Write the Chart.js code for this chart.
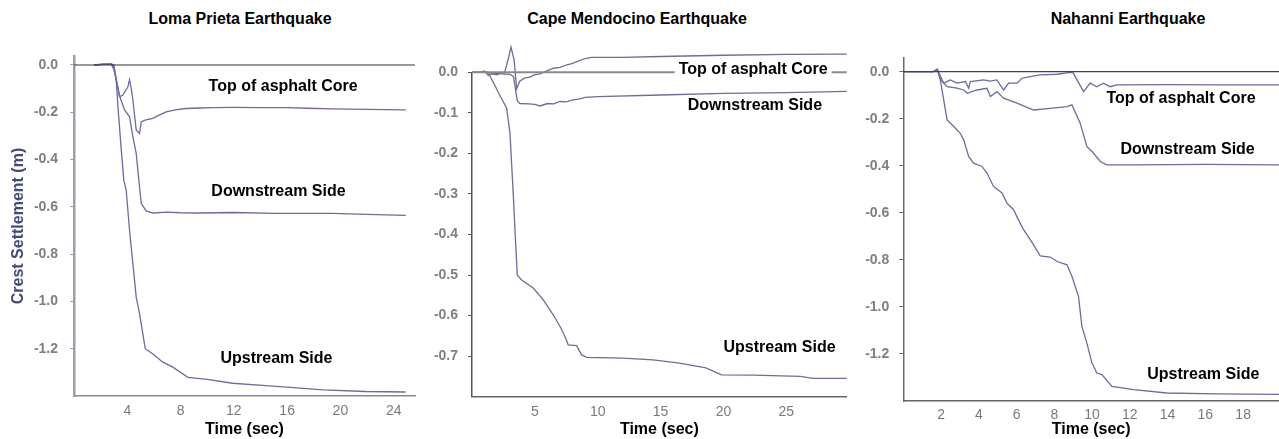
<!DOCTYPE html>
<html>
<head>
<meta charset="utf-8">
<title>Crest settlement</title>
<script src="https://cdn.jsdelivr.net/npm/chart.js@4.4.0/dist/chart.umd.min.js"></script>
<style>
  body { margin: 0; background: #fff; width: 1279px; height: 439px; position: relative; overflow: hidden;
         font-family: Arial, "Liberation Sans", sans-serif; }
  canvas { position: absolute; top: 0; }
  .ptitle { position: absolute; top: 10px; line-height: 18px; font-size: 16px; font-weight: bold; color: #000;
            transform: translateX(-50%); white-space: nowrap; }
</style>
</head>
<body>
<div class="ptitle" style="left:240px">Loma Prieta Earthquake</div>
<div class="ptitle" style="left:637px">Cape Mendocino Earthquake</div>
<div class="ptitle" style="left:1128px">Nahanni Earthquake</div>
<canvas id="loma" width="425" height="439" style="left:0px"></canvas>
<canvas id="cape" width="428" height="439" style="left:425px"></canvas>
<canvas id="nahanni" width="426" height="439" style="left:853px"></canvas>
<script>
// ---------- Loma Prieta (time in sec, settlement in m) ----------
const lomaCoreT = [1.5, 2.2, 2.8, 3.0, 3.17, 3.42, 3.67, 4.05, 4.17, 4.3, 4.42, 4.67, 4.92, 5.05, 5.4, 5.92, 6.4, 6.92, 7.6, 8.4, 9.4, 10.5, 11.9, 14, 16, 17.5, 19.4, 22, 24.9];
const lomaCoreY = [0, 0.003, 0.005, 0, -0.064, -0.134, -0.127, -0.092, -0.062, -0.1, -0.148, -0.275, -0.29, -0.24, -0.232, -0.226, -0.212, -0.198, -0.19, -0.184, -0.182, -0.18, -0.179, -0.18, -0.18, -0.183, -0.186, -0.188, -0.19];
const lomaDownT = [1.5, 2.2, 2.8, 3.0, 3.17, 3.42, 3.6, 3.8, 4.17, 4.42, 4.67, 4.92, 5.05, 5.42, 5.92, 7, 8, 9.4, 12, 15, 19.4, 22, 24.9];
const lomaDownY = [0, 0.004, 0.005, -0.01, -0.06, -0.13, -0.16, -0.19, -0.219, -0.304, -0.374, -0.516, -0.586, -0.617, -0.626, -0.622, -0.625, -0.626, -0.624, -0.628, -0.628, -0.632, -0.636];
const lomaUpT = [1.5, 2.2, 2.8, 3.0, 3.17, 3.3, 3.55, 3.74, 3.92, 4.17, 4.67, 4.92, 5.35, 5.92, 6.67, 7.42, 8.55, 10, 11.9, 14.4, 16.5, 18.7, 21.9, 24.9];
const lomaUpY = [0, 0.004, 0.003, -0.02, -0.064, -0.177, -0.36, -0.487, -0.53, -0.70, -0.982, -1.052, -1.20, -1.222, -1.257, -1.278, -1.321, -1.33, -1.346, -1.356, -1.365, -1.374, -1.381, -1.383];

// ---------- Cape Mendocino ----------
const capeCoreT = [0, 0.6, 1.0, 1.3, 1.6, 2.0, 2.3, 2.6, 2.9, 3.1, 3.35, 3.55, 3.8, 4.2, 4.6, 5.0, 5.4, 6.0, 6.5, 7.0, 7.5, 8.0, 8.5, 9.0, 9.5, 12, 15, 20, 25, 29.8];
const capeCoreY = [0, 0, 0.003, -0.008, -0.004, -0.006, 0, 0, 0.035, 0.062, 0.03, -0.04, -0.022, -0.014, -0.012, -0.006, -0.004, 0.004, 0.01, 0.012, 0.018, 0.022, 0.028, 0.034, 0.037, 0.037, 0.039, 0.042, 0.044, 0.045];
const capeDownT = [0, 1.0, 2.0, 3.0, 3.3, 3.6, 3.8, 4.5, 5.0, 5.4, 6.0, 6.5, 7.0, 7.5, 8.0, 8.5, 9.0, 10, 15, 20, 25, 29.8];
const capeDownY = [0, 0, -0.003, -0.005, -0.01, -0.07, -0.077, -0.078, -0.079, -0.083, -0.077, -0.078, -0.072, -0.073, -0.068, -0.066, -0.062, -0.06, -0.056, -0.052, -0.05, -0.047];
const capeUpT = [0, 1.27, 1.7, 2.2, 2.75, 3.02, 3.28, 3.42, 3.6, 3.95, 4.87, 5.67, 6.46, 7.0, 7.39, 7.65, 8.32, 8.72, 9.12, 12, 14.4, 16.5, 18.6, 19.85, 22.4, 26.1, 27.1, 29.8];
const capeUpY = [0, 0, -0.025, -0.056, -0.088, -0.15, -0.30, -0.39, -0.50, -0.512, -0.532, -0.561, -0.598, -0.627, -0.651, -0.672, -0.674, -0.697, -0.703, -0.705, -0.709, -0.717, -0.729, -0.746, -0.747, -0.75, -0.755, -0.755];

// ---------- Nahanni ----------
const nahCoreT = [0, 1.6, 1.8, 1.96, 2.14, 2.49, 2.85, 3.29, 3.46, 3.55, 4.25, 4.61, 4.96, 5.31, 5.58, 6.02, 6.28, 6.72, 7.25, 8.14, 8.84, 9.0, 9.2, 9.55, 9.9, 10.25, 10.6, 10.96, 11.31, 14, 17, 19.9];
const nahCoreY = [0, 0, 0.01, -0.03, -0.049, -0.035, -0.049, -0.042, -0.07, -0.042, -0.035, -0.04, -0.035, -0.078, -0.049, -0.049, -0.028, -0.021, -0.014, -0.011, -0.003, -0.005, -0.035, -0.085, -0.049, -0.064, -0.049, -0.064, -0.056, -0.055, -0.056, -0.056];
const nahDownT = [0, 1.6, 1.8, 2.14, 2.32, 2.85, 3.2, 3.38, 3.9, 4.43, 4.61, 4.96, 5.31, 6.02, 6.9, 7.78, 8.67, 8.93, 9.37, 9.72, 10.07, 10.43, 10.78, 12.19, 16, 19.9];
const nahDownY = [0, 0, 0.01, -0.049, -0.064, -0.07, -0.078, -0.092, -0.078, -0.071, -0.106, -0.085, -0.113, -0.134, -0.163, -0.156, -0.149, -0.141, -0.219, -0.318, -0.346, -0.382, -0.396, -0.396, -0.394, -0.396];
const nahUpT = [0, 1.6, 1.8, 1.96, 2.14, 2.32, 2.67, 3.02, 3.2, 3.46, 3.72, 4.17, 4.43, 4.78, 5.23, 5.49, 5.84, 6.1, 6.37, 6.81, 7.25, 7.78, 8.14, 8.67, 8.93, 9.28, 9.46, 9.72, 9.99, 10.25, 10.52, 11.05, 12.19, 13.96, 16.6, 19.9];
const nahUpY = [0, 0, 0.01, -0.035, -0.12, -0.205, -0.233, -0.262, -0.29, -0.36, -0.389, -0.403, -0.431, -0.488, -0.516, -0.559, -0.587, -0.63, -0.672, -0.725, -0.783, -0.788, -0.807, -0.821, -0.87, -0.955, -1.083, -1.153, -1.238, -1.281, -1.288, -1.338, -1.352, -1.366, -1.37, -1.372];

// tick values shown on each axis
const lomaYTicks = [0, -0.2, -0.4, -0.6, -0.8, -1.0, -1.2];
const lomaXTicks = [4, 8, 12, 16, 20, 24];
const capeYTicks = [0, -0.1, -0.2, -0.3, -0.4, -0.5, -0.6, -0.7];
const capeXTicks = [5, 10, 15, 20, 25];
const nahYTicks = [0, -0.2, -0.4, -0.6, -0.8, -1.0, -1.2];
const nahXTicks = [2, 4, 6, 8, 10, 12, 14, 16, 18];

const curveNames = ['Top of asphalt Core', 'Downstream Side', 'Upstream Side'];

const FONT = 'Arial, "Liberation Sans", sans-serif';

function points(ts, ys) {
  return ts.map((t, i) => ({ x: t, y: ys[i] }));
}

// text labels placed next to each curve, in data coordinates
function labelPlugin(items) {
  return {
    id: 'curveLabels',
    afterDatasetsDraw(chart) {
      const { ctx, scales: { x, y } } = chart;
      ctx.save();
      ctx.font = 'bold 16px ' + FONT;
      ctx.textAlign = 'center';
      ctx.textBaseline = 'middle';
      items.forEach(it => {
        const px = x.getPixelForValue(it.x);
        const py = y.getPixelForValue(it.y);
        if (it.bg) {
          const w = ctx.measureText(it.text).width;
          ctx.fillStyle = '#fff';
          ctx.fillRect(px - w / 2 - 4, py - 6, w + 8, 12);
        }
        ctx.fillStyle = '#000';
        ctx.fillText(it.text, px, py);
      });
      ctx.restore();
    }
  };
}

function drawPanel(p) {
  const line = (data, color, width) => ({
    data, borderColor: color, borderWidth: width, pointRadius: 0,
    tension: 0, fill: false, clip: false
  });
  const datasets = [
    line(points([0, p.xMax], [0, 0]), p.zeroColor, p.zeroWidth),
    line(points(p.core[0], p.core[1]), p.lineColor, 1.3),
    line(points(p.down[0], p.down[1]), p.lineColor, 1.3),
    line(points(p.up[0], p.up[1]), p.lineColor, 1.3)
  ];

  new Chart(document.getElementById(p.id), {
    type: 'line',
    data: { datasets },
    plugins: [labelPlugin(p.labels)],
    options: {
      responsive: false,
      animation: false,
      devicePixelRatio: 1,
      layout: { padding: { left: 0, right: p.padRight, top: p.padTop, bottom: 0 } },
      plugins: { legend: { display: false }, tooltip: { enabled: false } },
      scales: {
        x: {
          type: 'linear', min: 0, max: p.xMax,
          afterFit: s => { s.height = p.xHeight; },
          afterBuildTicks: s => { s.ticks = p.xTicks.map(v => ({ value: v })); },
          grid: { display: false, drawTicks: false },
          border: { display: true, color: p.axisColor, width: 1.5 },
          ticks: { padding: p.xPad, color: '#7a7a7a', font: { family: FONT, size: 14 }, callback: v => v },
          title: { display: true, text: 'Time (sec)', color: '#000', padding: { top: 0, bottom: 0 },
                   font: { family: FONT, size: 16, weight: 'bold' } }
        },
        y: {
          type: 'linear', min: p.yMin, max: p.yMax,
          afterFit: s => { s.width = p.yWidth; },
          afterBuildTicks: s => { s.ticks = p.yTicks.map(v => ({ value: v })); },
          grid: { display: true, drawOnChartArea: false, drawTicks: true, tickLength: 4, color: p.yAxisColor },
          border: { display: true, color: p.yAxisColor, width: p.yAxisWidth },
          ticks: { padding: p.yPad, color: '#7f7f7f', font: { family: FONT, size: 14, weight: 'bold' },
                   callback: v => v.toFixed(1) },
          title: { display: !!p.yTitle, text: p.yTitle || '', color: '#454a78', padding: { top: 9, bottom: 0 },
                   font: { family: FONT, size: 16, weight: 'bold' } }
        }
      }
    }
  });
}

drawPanel({
  id: 'loma', yWidth: 74, padRight: 10, padTop: 56, xHeight: 43,
  xMax: 25.6, yMin: -1.4, yMax: 0.038, xTicks: lomaXTicks, yTicks: lomaYTicks,
  xPad: 7, yPad: 12, yTitle: 'Crest Settlement (m)',
  axisColor: '#8a8a8a', yAxisColor: '#9c9cab', yAxisWidth: 2.5,
  zeroColor: '#333333', zeroWidth: 1, lineColor: '#6a6d9e',
  core: [lomaCoreT, lomaCoreY], down: [lomaDownT, lomaDownY], up: [lomaUpT, lomaUpY],
  labels: [
    { text: curveNames[0], x: 15.7, y: -0.092 },
    { text: curveNames[1], x: 15.35, y: -0.537 },
    { text: curveNames[2], x: 15.2, y: -1.243 }
  ]
});

drawPanel({
  id: 'cape', yWidth: 47, padRight: 6.3, padTop: 72.3, xHeight: 42.3,
  xMax: 29.8, yMin: -0.8, yMax: 0, xTicks: capeXTicks, yTicks: capeYTicks,
  xPad: 7, yPad: 10,
  axisColor: '#666666', yAxisColor: '#555555', yAxisWidth: 1.5,
  zeroColor: '#8a8a8a', zeroWidth: 2, lineColor: '#6c6e94',
  core: [capeCoreT, capeCoreY], down: [capeDownT, capeDownY], up: [capeUpT, capeUpY],
  labels: [
    { text: curveNames[0], x: 22.36, y: 0.0057, bg: true },
    { text: curveNames[1], x: 22.5, y: -0.083 },
    { text: curveNames[2], x: 24.46, y: -0.68 }
  ]
});

drawPanel({
  id: 'nahanni', yWidth: 50.3, padRight: 0, padTop: 58, xHeight: 38,
  xMax: 19.9, yMin: -1.4, yMax: 0.058, xTicks: nahXTicks, yTicks: nahYTicks,
  xPad: 6, yPad: 10,
  axisColor: '#666666', yAxisColor: '#6a6a6a', yAxisWidth: 1.5,
  zeroColor: '#444444', zeroWidth: 1.3, lineColor: '#6a6d9e',
  core: [nahCoreT, nahCoreY], down: [nahDownT, nahDownY], up: [nahUpT, nahUpY],
  labels: [
    { text: curveNames[0], x: 14.71, y: -0.116 },
    { text: curveNames[1], x: 15.06, y: -0.33 },
    { text: curveNames[2], x: 15.89, y: -1.288 }
  ]
});
</script>
</body>
</html>
